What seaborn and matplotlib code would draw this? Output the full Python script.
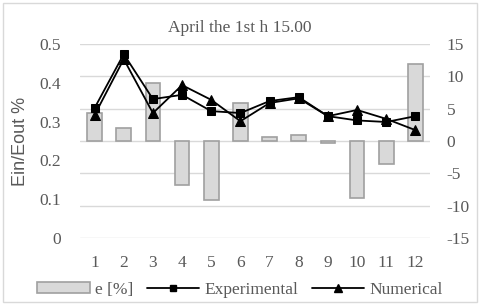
import numpy as np
import matplotlib
matplotlib.use("Agg")
import matplotlib.pyplot as plt
import seaborn as sns
from matplotlib.patches import Rectangle

# data
hours = ["1", "2", "3", "4", "5", "6", "7", "8", "9", "10", "11", "12"]
error_pct = [4.3, 2.0, 9.0, -6.8, -9.1, 5.9, 0.6, 1.0, -0.3, -8.8, -3.5, 11.9]
experimental = [0.335, 0.474, 0.358, 0.369, 0.327, 0.322, 0.353, 0.363, 0.314, 0.303, 0.299, 0.314]
numerical = [0.317, 0.461, 0.322, 0.394, 0.356, 0.301, 0.348, 0.360, 0.314, 0.330, 0.307, 0.278]

sns.set_theme(style="white")
plt.rcParams["font.family"] = ["Liberation Serif", "DejaVu Serif"]
plt.rcParams["axes.unicode_minus"] = False

txt = "#595959"
grid = "#d9d9d9"

fig = plt.figure(figsize=(4.8, 3.05), dpi=100)
ax = fig.add_axes([80 / 480, 1 - 238 / 305, 350 / 480, 194 / 305])

# bars on the secondary (right) scale, drawn first so they stay behind lines
sns.barplot(x=hours, y=error_pct, ax=ax, color="#d9d9d9", width=0.5,
            edgecolor="#a0a0a0", linewidth=1.2, saturation=1, zorder=2)
ax.set_ylim(-15, 15)
ax.set_yticks(range(-15, 16, 5))
ax.set_xlim(-0.5, len(hours) - 0.5)
ax.grid(axis="y", color=grid, linewidth=1, zorder=0)
ax.set_axisbelow(True)

ax2 = ax.twinx()
ax.yaxis.tick_right()
pos = np.arange(len(hours))
sns.lineplot(x=pos, y=experimental, ax=ax2, color="black", marker="s",
             markersize=6, linewidth=1.3, markeredgecolor="black")
sns.lineplot(x=pos, y=numerical, ax=ax2, color="black", marker="^",
             markersize=7, linewidth=1.3, markeredgecolor="black")
ax2.set_ylim(0, 0.5)
ax2.set_yticks([0, 0.1, 0.2, 0.3, 0.4, 0.5])
ax2.set_yticklabels(["0", "0.1", "0.2", "0.3", "0.4", "0.5"])
ax2.yaxis.tick_left()
ax2.yaxis.set_label_position("left")
ax2.set_ylabel("Ein/Eout %", family=["Liberation Sans", "DejaVu Sans"],
               fontsize=13, color=txt, labelpad=7)

for a in (ax, ax2):
    for s in a.spines.values():
        s.set_visible(False)
    a.tick_params(length=0, labelsize=12.5, labelcolor=txt)
ax.tick_params(axis="x", pad=12)
ax.tick_params(axis="y", pad=12)
ax2.tick_params(axis="y", pad=14)
ax.set_xticks(pos)
ax.set_xticklabels(hours)

fig.suptitle("April the 1st h 15.00", y=0.935, fontsize=12.5, color=txt)

handles = [
    Rectangle((0, 0), 1, 1, facecolor="#d9d9d9", edgecolor="#a0a0a0", linewidth=1.2),
    plt.Line2D([], [], color="black", marker="s", markersize=5, linewidth=1.3),
    plt.Line2D([], [], color="black", marker="^", markersize=6, linewidth=1.3),
]
fig.legend(handles, ["e [%]", "Experimental", "Numerical"], loc="center",
           bbox_to_anchor=(0.5, 1 - 290 / 305), ncol=3, frameon=False,
           prop={"family": ["Liberation Serif"], "size": 12.5}, labelcolor=txt,
           handlelength=3, handleheight=0.6, handletextpad=0.3, columnspacing=0.8)

fig.patches.append(Rectangle((0.006, 0.01), 0.988, 0.98, transform=fig.transFigure,
                             fill=False, edgecolor=grid, linewidth=1))

fig.savefig("out.png", dpi=100)
